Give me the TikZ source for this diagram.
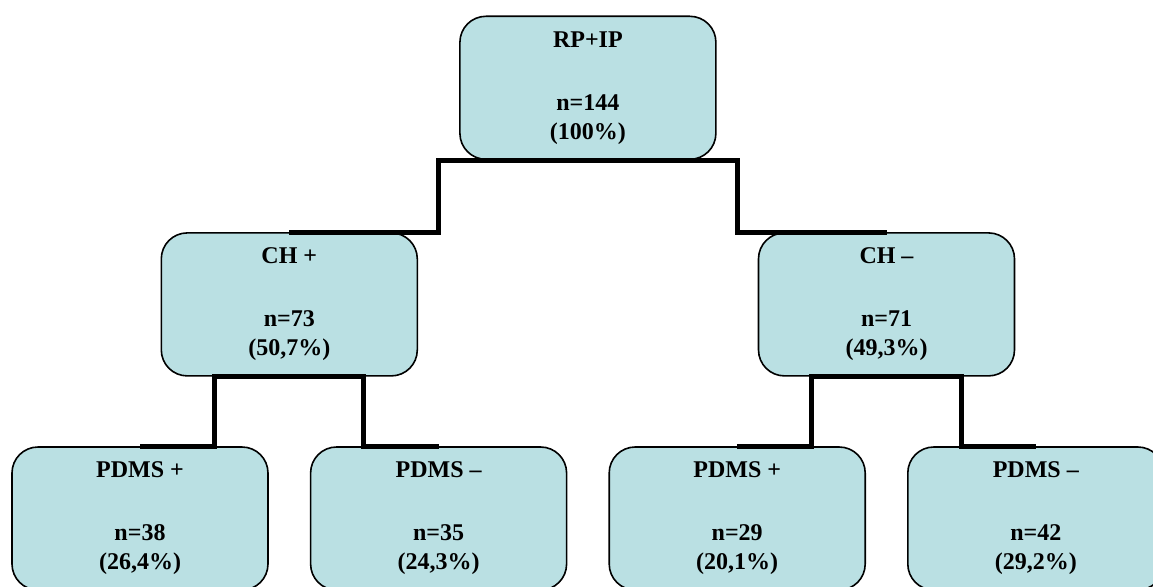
\documentclass[tikz,border=0pt]{standalone}
\usepackage{fontspec}
\setmainfont{Liberation Serif}
\usetikzlibrary{positioning,calc}
\definecolor{boxblue}{RGB}{186,224,227}

\begin{document}
\begin{tikzpicture}[
    x=1pt, y=1pt,
    box/.style={rectangle, rounded corners=26pt, draw, line width=1.6pt, fill=boxblue, minimum width=256pt, minimum height=143pt, align=center, font=\bfseries\fontsize{24}{29}\selectfont},
    link/.style={line width=5pt},
    node distance=69.5pt and 41pt
]
\useasboundingbox (0,0) rectangle (1153,-586);
\clip (0,0) rectangle (1153,-586);
% bottom row
\node[box] (pdmsA) at (140,-518.5) {PDMS +\\[34pt]n=38\\(26,4\%)};
\node[box, right=of pdmsA] (pdmsB) {PDMS –\\[34pt]n=35\\(24,3\%)};
\node[box, right=of pdmsB] (pdmsC) {PDMS +\\[34pt]n=29\\(20,1\%)};
\node[box, right=of pdmsC] (pdmsD) {PDMS –\\[34pt]n=42\\(29,2\%)};
% middle row
\coordinate (midL) at ($(pdmsA.north)!0.5!(pdmsB.north)$);
\coordinate (midR) at ($(pdmsC.north)!0.5!(pdmsD.north)$);
\node[box, above=of midL] (chPos) {CH +\\[34pt]n=73\\(50,7\%)};
\node[box, above=of midR] (chNeg) {CH –\\[34pt]n=71\\(49,3\%)};
% top
\coordinate (midT) at ($(chPos.north)!0.5!(chNeg.north)$);
\node[box, above=72pt of midT] (all) {RP+IP\\[34pt]n=144\\(100\%)};

\draw[link] (chPos.north) -| ($(chPos.north)!0.5!(all.south)$) |- (all.south);
\draw[link] (chNeg.north) -| ($(chNeg.north)!0.5!(all.south)$) |- (all.south);
\draw[link] (pdmsA.north) -| ($(pdmsA.north)!0.5!(chPos.south)$) |- (chPos.south);
\draw[link] (pdmsB.north) -| ($(pdmsB.north)!0.5!(chPos.south)$) |- (chPos.south);
\draw[link] (pdmsC.north) -| ($(pdmsC.north)!0.5!(chNeg.south)$) |- (chNeg.south);
\draw[link] (pdmsD.north) -| ($(pdmsD.north)!0.5!(chNeg.south)$) |- (chNeg.south);
\end{tikzpicture}
\end{document}
